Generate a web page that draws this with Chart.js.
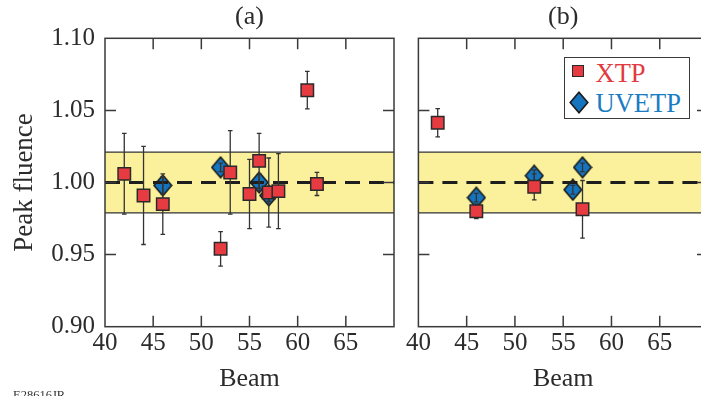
<!DOCTYPE html>
<html>
<head>
<meta charset="utf-8">
<script src="https://cdn.jsdelivr.net/npm/chart.js@4.4.1/dist/chart.umd.min.js"></script>
<style>
  html, body { margin: 0; padding: 0; background: #fff; overflow: hidden; }
  #wrap { position: relative; width: 701px; height: 396px; overflow: hidden; font-family: 'Liberation Serif', serif; }
  .panel { position: absolute; top: 0; height: 396px; }
  #pa { left: 0; width: 400px; }
  #pb { left: 400px; width: 320px; }
  #legend { position: absolute; left: 564px; top: 57px; width: 126px; height: 62px; box-sizing: border-box;
            border: 1.5px solid #3a3a3a; background: #fff; }
  .lg { position: absolute; font-size: 26.5px; line-height: 26.5px; white-space: nowrap; }
  #lg-sq { position: absolute; left: 572px; top: 65px; width: 12px; height: 12px; box-sizing: border-box;
           background: #e63b41; border: 1.5px solid #2a2a2a; }
  #fig-id { position: absolute; left: 13px; top: 388.5px; font-size: 12.5px; line-height: 12px; color: #333; }
</style>
</head>
<body>
<div id="wrap">
  <div class="panel" id="pa"><canvas id="chart-a"></canvas></div>
  <div class="panel" id="pb"><canvas id="chart-b"></canvas></div>
  <div id="legend"></div>
  <div id="lg-sq"></div>
  <svg style="position:absolute;left:568.5px;top:91px" width="20" height="23">
    <polygon points="10,1.2 18.8,11.5 10,21.8 1.2,11.5" fill="#1574be" stroke="#1a1a1a" stroke-width="1.6"/>
  </svg>
  <div class="lg" style="left:595.5px;top:59.5px;color:#e23a40">XTP</div>
  <div class="lg" style="left:595.5px;top:90px;color:#1a7cc3">UVETP</div>
  <div id="fig-id">E28616JR</div>
</div>
<script>
// Panel (a)
const XTP_A_BEAM  = [42, 44, 46, 52, 53, 55, 56, 57, 58, 61, 62];
const XTP_A_VAL   = [1.006, 0.991, 0.985, 0.954, 1.007, 0.992, 1.015, 0.993, 0.994, 1.064, 0.999];
const XTP_A_ERR   = [0.028, 0.034, 0.021, 0.012, 0.029, 0.024, 0.019, 0.024, 0.026, 0.013, 0.008];
const UVETP_A_BEAM = [46, 52, 56, 57];
const UVETP_A_VAL  = [0.998, 1.0105, 1.000, 0.991];
const UVETP_A_ERR  = [0.006, 0.003, 0.006, 0.004];

// Panel (b)
const XTP_B_BEAM  = [42, 46, 52, 57];
const XTP_B_VAL   = [1.0415, 0.980, 0.997, 0.9814];
const XTP_B_ERR   = [0.0098, 0.005, 0.009, 0.020];
const UVETP_B_BEAM = [46, 52, 56, 57];
const UVETP_B_VAL  = [0.9895, 1.0047, 0.995, 1.0105];
const UVETP_B_ERR  = [0.003, 0.004, 0.003, 0.003];

// Axes / reference
const X_MIN = 40, X_MAX = 70, X_STEP = 5;
const Y_MIN = 0.90, Y_MAX = 1.10, Y_STEP = 0.05;
const REF_LEVEL = 1.00;
const BAND_LO = 0.979, BAND_HI = 1.021;

const RED = '#e63b41', BLUE = '#1574be', EDGE = '#2a2a2a', INK = '#2b2b2b';
const CAP = 2.3;

Chart.defaults.font.family = "'Liberation Serif', serif";
Chart.defaults.color = INK;

// diamond marker, a bit taller than wide
function diamondMarker() {
  const c = document.createElement('canvas');
  c.width = 20; c.height = 23;
  const g = c.getContext('2d');
  g.beginPath();
  g.moveTo(10, 1.2); g.lineTo(18.8, 11.5); g.lineTo(10, 21.8); g.lineTo(1.2, 11.5);
  g.closePath();
  g.fillStyle = BLUE; g.fill();
  g.lineWidth = 1.6; g.strokeStyle = '#1a1a1a'; g.stroke();
  return c;
}
const DIAMOND = diamondMarker();

const toPoints = (xs, ys) => xs.map((x, i) => ({ x, y: ys[i] }));

function drawBars(chart, i, onTop) {
  const ds = chart.data.datasets[i];
  if (!ds.errors || !!ds.barsOnTop !== onTop) return;
  const { ctx, scales: { x, y } } = chart;
  ctx.save();
  ctx.strokeStyle = '#333';
  ctx.lineWidth = 1.3;
  ds.data.forEach((p, k) => {
    const px = x.getPixelForValue(p.x);
    const top = y.getPixelForValue(p.y + ds.errors[k]);
    const bot = y.getPixelForValue(p.y - ds.errors[k]);
    ctx.beginPath();
    ctx.moveTo(px, top); ctx.lineTo(px, bot);
    ctx.moveTo(px - CAP, top); ctx.lineTo(px + CAP, top);
    ctx.moveTo(px - CAP, bot); ctx.lineTo(px + CAP, bot);
    ctx.stroke();
  });
  ctx.restore();
}

const errorBars = {
  id: 'errorBars',
  beforeDatasetDraw(chart, args) { drawBars(chart, args.index, false); },
  afterDatasetDraw(chart, args) { drawBars(chart, args.index, true); },
};

const frame = {
  id: 'frame',
  beforeDatasetsDraw(chart) {
    const { ctx, chartArea: a, scales: { y } } = chart;
    const t = y.getPixelForValue(BAND_HI), b = y.getPixelForValue(BAND_LO);
    ctx.save();
    ctx.fillStyle = '#fbf19c';
    ctx.fillRect(a.left, t, a.right - a.left, b - t);
    ctx.strokeStyle = '#333'; ctx.lineWidth = 1.3;
    ctx.beginPath();
    ctx.moveTo(a.left, t); ctx.lineTo(a.right, t);
    ctx.moveTo(a.left, b); ctx.lineTo(a.right, b);
    ctx.stroke();
    ctx.restore();
  },
  afterDraw(chart) {
    const { ctx, chartArea: a, scales: { x, y } } = chart;
    const L = 11;
    ctx.save();
    ctx.strokeStyle = '#3a3a3a'; ctx.lineWidth = 1.5;
    ctx.beginPath();
    x.ticks.forEach(t => {
      if (t.value <= X_MIN || t.value >= X_MAX) return;
      const px = x.getPixelForValue(t.value);
      ctx.moveTo(px, a.top); ctx.lineTo(px, a.top + L);
      ctx.moveTo(px, a.bottom); ctx.lineTo(px, a.bottom - L);
    });
    y.ticks.forEach(t => {
      if (t.value <= Y_MIN + 1e-9 || t.value >= Y_MAX - 1e-9) return;
      const py = y.getPixelForValue(t.value);
      ctx.moveTo(a.left, py); ctx.lineTo(a.left + L, py);
      ctx.moveTo(a.right, py); ctx.lineTo(a.right - L, py);
    });
    ctx.stroke();
    ctx.strokeRect(a.left, a.top, a.right - a.left, a.bottom - a.top);
    ctx.restore();
  },
};

function buildPanel(id, p) {
  const titleFont = { size: 26 };
  return new Chart(document.getElementById(id), {
    type: 'scatter',
    data: {
      datasets: [
        { label: 'XTP', data: toPoints(p.xtpBeam, p.xtpVal), errors: p.xtpErr, barsOnTop: false,
          xAxisID: 'x', yAxisID: 'y', order: 1,
          pointStyle: 'rect', pointRadius: 8.8, backgroundColor: RED, borderColor: EDGE, borderWidth: 1.5 },
        { type: 'line', label: 'ref', data: [{ x: X_MIN, y: REF_LEVEL }, { x: X_MAX, y: REF_LEVEL }],
          xAxisID: 'x', yAxisID: 'y', order: 2,
          borderColor: '#1e1e1e', borderWidth: 3, borderDash: [15, 9], pointRadius: 0 },
        { label: 'UVETP', data: toPoints(p.uvBeam, p.uvVal), errors: p.uvErr, barsOnTop: true,
          xAxisID: 'x', yAxisID: 'y', order: 3,
          pointStyle: DIAMOND, pointRadius: 10, backgroundColor: BLUE, borderColor: EDGE, borderWidth: 1.5 },
      ],
    },
    options: {
      responsive: true,
      maintainAspectRatio: false,
      animation: false,
      events: [],
      layout: { autoPadding: false, padding: { left: 0, right: p.padRight, top: 0, bottom: 0 } },
      plugins: { legend: { display: false }, tooltip: { enabled: false } },
      scales: {
        x: {
          type: 'linear', position: 'bottom', min: X_MIN, max: X_MAX,
          afterFit: s => { s.height = 69.3; },
          grid: { display: false, drawTicks: false }, border: { display: false },
          ticks: { stepSize: X_STEP, autoSkip: false, maxRotation: 0, padding: 2, font: { size: 25 }, color: INK,
                   callback: v => (v < X_MAX ? v : '') },
          title: { display: true, text: 'Beam', font: titleFont, color: INK, padding: { top: 0, bottom: 1 } },
        },
        top: {
          type: 'linear', position: 'top', min: X_MIN, max: X_MAX,
          afterFit: s => { s.height = 38.3; },
          grid: { display: false, drawTicks: false }, border: { display: false },
          ticks: { display: false },
          title: { display: true, text: p.title, font: titleFont, color: INK, padding: { top: 2, bottom: 0 } },
        },
        y: {
          type: 'linear', position: 'left', min: Y_MIN, max: Y_MAX,
          afterFit: s => { s.width = p.yWidth; },
          grid: { display: false, drawTicks: false }, border: { display: false },
          ticks: { display: p.showY, stepSize: Y_STEP, padding: 10, font: { size: 25 }, color: INK,
                   callback: v => v.toFixed(2) },
          title: { display: p.showY, text: 'Peak fluence', font: { size: 27 }, color: INK, padding: { top: 9, bottom: 0 } },
        },
      },
    },
    plugins: [frame, errorBars],
  });
}

buildPanel('chart-a', {
  title: '(a)', showY: true, yWidth: 105, padRight: 6,
  xtpBeam: XTP_A_BEAM, xtpVal: XTP_A_VAL, xtpErr: XTP_A_ERR,
  uvBeam: UVETP_A_BEAM, uvVal: UVETP_A_VAL, uvErr: UVETP_A_ERR,
});
buildPanel('chart-b', {
  title: '(b)', showY: false, yWidth: 18.4, padRight: 12,
  xtpBeam: XTP_B_BEAM, xtpVal: XTP_B_VAL, xtpErr: XTP_B_ERR,
  uvBeam: UVETP_B_BEAM, uvVal: UVETP_B_VAL, uvErr: UVETP_B_ERR,
});
</script>
</body>
</html>
